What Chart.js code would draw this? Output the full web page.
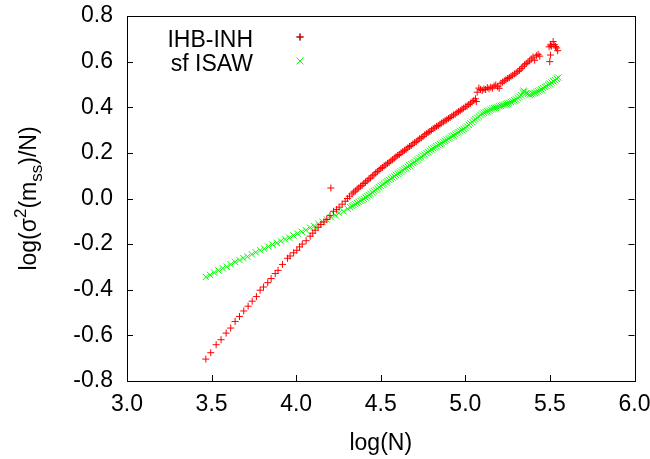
<!DOCTYPE html>
<html>
<head>
<meta charset="utf-8">
<script src="https://cdn.jsdelivr.net/npm/chart.js@4"></script>
<style>
  body { margin: 0; background: #fff; }
  canvas { display: block; }
</style>
</head>
<body>
<canvas id="chart" width="650" height="459"></canvas>
<script>
// IHB-INH (red +)
const redX = [
  3.466, 3.495, 3.527, 3.556, 3.586, 3.613, 3.639, 3.665, 3.690, 3.716, 3.740, 3.765, 3.787, 3.807,
  3.832, 3.852, 3.876, 3.893, 3.919, 3.949, 3.964, 3.985, 4.004, 4.020, 4.036, 4.059, 4.083, 4.098,
  4.112, 4.130, 4.146, 4.164, 4.181, 4.200, 4.205, 4.221, 4.238, 4.254, 4.272, 4.290, 4.303, 4.315,
  4.33, 4.34, 4.35, 4.36, 4.37, 4.38, 4.39, 4.40, 4.41, 4.42, 4.43, 4.44, 4.45, 4.46, 4.47, 4.48,
  4.49, 4.50, 4.51, 4.52, 4.53, 4.54, 4.55, 4.56, 4.57, 4.58, 4.59, 4.60, 4.61, 4.62, 4.63, 4.64,
  4.65, 4.66, 4.67, 4.68, 4.69, 4.70, 4.71, 4.72, 4.73, 4.74, 4.75, 4.76, 4.77, 4.78, 4.79, 4.80,
  4.81, 4.82, 4.83, 4.84, 4.85, 4.86, 4.87, 4.88, 4.89, 4.90, 4.91, 4.92, 4.93, 4.94, 4.95, 4.96,
  4.97, 4.98, 4.99, 5.00, 5.01, 5.02, 5.03, 5.04, 5.05, 5.06, 5.065, 5.07, 5.08, 5.09, 5.10, 5.11,
  5.12, 5.13, 5.14, 5.15, 5.16, 5.17, 5.18, 5.19, 5.20, 5.21, 5.22, 5.23, 5.24, 5.25, 5.26, 5.27,
  5.28, 5.29, 5.30, 5.31, 5.32, 5.33, 5.34, 5.35, 5.36, 5.37, 5.38, 5.39, 5.40, 5.41, 5.42, 5.43,
  5.44, 5.495, 5.499, 5.503, 5.503, 5.51, 5.519, 5.525, 5.533, 5.54, 5.546
];
const redY = [
  -0.704, -0.676, -0.641, -0.619, -0.590, -0.568, -0.539, -0.517, -0.493, -0.472, -0.450, -0.430, -0.402, -0.388,
  -0.369, -0.351, -0.329, -0.315, -0.289, -0.262, -0.252, -0.238, -0.227, -0.212, -0.200, -0.185, -0.165, -0.152,
  -0.139, -0.126, -0.114, -0.103, -0.092, -0.075, 0.046, -0.056, -0.048, -0.038, -0.025, -0.012, 0.000, 0.010,
  0.020, 0.028, 0.033, 0.041, 0.046, 0.054, 0.058, 0.066, 0.072, 0.078, 0.086, 0.090, 0.099, 0.104, 0.112, 0.118,
  0.125, 0.131, 0.136, 0.143, 0.147, 0.154, 0.159, 0.165, 0.170, 0.177, 0.183, 0.189, 0.193, 0.200, 0.205, 0.211,
  0.216, 0.222, 0.228, 0.232, 0.239, 0.245, 0.249, 0.256, 0.262, 0.266, 0.272, 0.279, 0.284, 0.290, 0.294, 0.300,
  0.306, 0.310, 0.316, 0.320, 0.326, 0.331, 0.336, 0.341, 0.345, 0.351, 0.355, 0.361, 0.366, 0.370, 0.376, 0.381,
  0.385, 0.391, 0.396, 0.402, 0.405, 0.412, 0.418, 0.423, 0.430, 0.437, 0.425, 0.466, 0.484, 0.478, 0.474, 0.480,
  0.478, 0.486, 0.481, 0.488, 0.484, 0.493, 0.498, 0.490, 0.483, 0.505, 0.510, 0.516, 0.520, 0.526, 0.530, 0.536,
  0.540, 0.546, 0.550, 0.556, 0.562, 0.570, 0.578, 0.586, 0.592, 0.598, 0.603, 0.612, 0.620, 0.606, 0.626, 0.632,
  0.624, 0.665, 0.600, 0.629, 0.673, 0.668, 0.688, 0.675, 0.666, 0.660, 0.648
];

// sf ISAW (green x)
const greenX = [
  3.466, 3.491, 3.515, 3.540, 3.566, 3.590, 3.613, 3.639, 3.665, 3.688, 3.712, 3.738, 3.761, 3.787,
  3.811, 3.836, 3.860, 3.886, 3.909, 3.935, 3.959, 3.984, 4.007, 4.033, 4.057, 4.083, 4.107, 4.132,
  4.156, 4.181, 4.205, 4.231, 4.254, 4.280, 4.304,
  4.32, 4.33, 4.34, 4.35, 4.36, 4.37, 4.38, 4.39, 4.40, 4.41, 4.42, 4.43, 4.44, 4.45, 4.46, 4.47,
  4.48, 4.49, 4.50, 4.51, 4.52, 4.53, 4.54, 4.55, 4.56, 4.57, 4.58, 4.59, 4.60, 4.61, 4.62, 4.63,
  4.64, 4.65, 4.66, 4.67, 4.68, 4.69, 4.70, 4.71, 4.72, 4.73, 4.74, 4.75, 4.76, 4.77, 4.78, 4.79,
  4.80, 4.81, 4.82, 4.83, 4.84, 4.85, 4.86, 4.87, 4.88, 4.89, 4.90, 4.91, 4.92, 4.93, 4.94, 4.95,
  4.96, 4.97, 4.98, 4.99, 5.00, 5.01, 5.02, 5.03, 5.04, 5.05, 5.06, 5.07, 5.08, 5.09, 5.10, 5.11,
  5.12, 5.13, 5.14, 5.15, 5.16, 5.17, 5.18, 5.19, 5.20, 5.21, 5.22, 5.23, 5.24, 5.25, 5.26, 5.27,
  5.28, 5.29, 5.30, 5.31, 5.32, 5.33, 5.34, 5.345, 5.35, 5.36, 5.37, 5.38, 5.39, 5.40, 5.41, 5.42,
  5.43, 5.44, 5.45, 5.46, 5.47, 5.48, 5.49, 5.50, 5.51, 5.52, 5.53, 5.54, 5.55
];
const greenY = [
  -0.344, -0.335, -0.325, -0.315, -0.306, -0.299, -0.289, -0.278, -0.270, -0.261, -0.255, -0.245, -0.236, -0.227,
  -0.220, -0.211, -0.202, -0.194, -0.187, -0.179, -0.172, -0.162, -0.154, -0.146, -0.139, -0.128, -0.121, -0.111,
  -0.102, -0.092, -0.082, -0.073, -0.063, -0.056, -0.045,
  -0.038, -0.034, -0.029, -0.025, -0.020, -0.015, -0.011, -0.006, -0.002, 0.004, 0.009, 0.015, 0.020, 0.026, 0.032, 0.037,
  0.043, 0.049, 0.055, 0.060, 0.065, 0.071, 0.076, 0.081, 0.087, 0.092, 0.097, 0.103, 0.108, 0.113, 0.118, 0.124,
  0.129, 0.134, 0.139, 0.145, 0.150, 0.155, 0.160, 0.166, 0.171, 0.177, 0.182, 0.188, 0.193, 0.199, 0.204, 0.210,
  0.215, 0.220, 0.224, 0.229, 0.234, 0.239, 0.243, 0.248, 0.253, 0.257, 0.262, 0.267, 0.272, 0.276, 0.281, 0.286,
  0.291, 0.296, 0.300, 0.305, 0.310, 0.316, 0.323, 0.329, 0.336, 0.342, 0.348, 0.354, 0.360, 0.366, 0.372, 0.376,
  0.379, 0.383, 0.386, 0.390, 0.393, 0.396, 0.398, 0.401, 0.404, 0.406, 0.409, 0.411, 0.414, 0.416, 0.419, 0.423,
  0.426, 0.430, 0.434, 0.440, 0.446, 0.452, 0.465, 0.472, 0.468, 0.462, 0.458, 0.455, 0.457, 0.460, 0.463, 0.467,
  0.470, 0.474, 0.478, 0.483, 0.488, 0.493, 0.498, 0.503, 0.508, 0.514, 0.519, 0.525, 0.530
];

const xTicks = [3.0, 3.5, 4.0, 4.5, 5.0, 5.5, 6.0];
const yTicks = [-0.8, -0.6, -0.4, -0.2, 0.0, 0.2, 0.4, 0.6, 0.8];
const seriesNames = ['IHB-INH', 'sf ISAW'];

const FONT = 'Liberation Sans, Arial, Helvetica, sans-serif';
const toPoints = (xs, ys) => xs.map((x, i) => ({ x, y: ys[i] }));

// frame, inward tick marks, legend, axis titles (gnuplot look)
const gnuplotDecor = {
  id: 'gnuplotDecor',
  afterDraw(chart) {
    const { ctx, chartArea: a, scales } = chart;
    ctx.save();
    ctx.strokeStyle = '#000';
    ctx.lineWidth = 1;
    ctx.strokeRect(Math.round(a.left) + 0.5, Math.round(a.top) + 0.5,
      Math.round(a.right - a.left), Math.round(a.bottom - a.top));
    ctx.beginPath();
    yTicks.forEach(v => {
      const y = Math.round(scales.y.getPixelForValue(v)) + 0.5;
      ctx.moveTo(a.left, y); ctx.lineTo(a.left + 6, y);
      ctx.moveTo(a.right, y); ctx.lineTo(a.right - 6, y);
    });
    xTicks.forEach(v => {
      const x = Math.round(scales.x.getPixelForValue(v)) + 0.5;
      ctx.moveTo(x, a.bottom); ctx.lineTo(x, a.bottom - 6);
    });
    ctx.stroke();

    // legend
    ctx.font = '23px ' + FONT;
    ctx.fillStyle = '#000';
    ctx.textAlign = 'right';
    ctx.textBaseline = 'alphabetic';
    const legY = [46.5, 70.5];
    chart.data.datasets.forEach((ds, i) => {
      ctx.fillText(seriesNames[i], 253, legY[i]);
      Chart.helpers.drawPoint(ctx, {
        pointStyle: ds.pointStyle, radius: ds.pointRadius, borderWidth: 1
      }, 300, legY[i] - 9.5);
      ctx.strokeStyle = ds.borderColor;
      ctx.lineWidth = 1;
      ctx.stroke();
    });

    // x title
    ctx.textAlign = 'center';
    ctx.fillStyle = '#000';
    ctx.font = '23px ' + FONT;
    ctx.fillText('log(N)', (a.left + a.right) / 2, 450);

    // y title with super/subscript
    const parts = [
      { t: 'log(σ', f: 23, dy: 0 },
      { t: '2', f: 17, dy: -10 },
      { t: '(m', f: 23, dy: 0 },
      { t: 'ss', f: 17, dy: 6 },
      { t: ')/N)', f: 23, dy: 0 }
    ];
    let total = 0;
    parts.forEach(p => { ctx.font = p.f + 'px ' + FONT; p.w = ctx.measureText(p.t).width; total += p.w; });
    ctx.translate(35.5, (a.top + a.bottom) / 2);
    ctx.rotate(-Math.PI / 2);
    ctx.textAlign = 'left';
    let px = -total / 2;
    parts.forEach(p => {
      ctx.font = p.f + 'px ' + FONT;
      ctx.fillText(p.t, px, p.dy);
      px += p.w;
    });
    ctx.restore();
  }
};

new Chart(document.getElementById('chart'), {
  type: 'scatter',
  data: {
    datasets: [
      {
        label: seriesNames[0],
        data: toPoints(redX, redY),
        pointStyle: 'cross',
        pointRadius: 3.5,
        borderColor: 'rgb(255,0,0)',
        backgroundColor: 'rgb(255,0,0)',
        borderWidth: 1
      },
      {
        label: seriesNames[1],
        data: toPoints(greenX, greenY),
        pointStyle: 'crossRot',
        pointRadius: 4.5,
        borderColor: 'rgb(0,255,0)',
        backgroundColor: 'rgb(0,255,0)',
        borderWidth: 1
      }
    ]
  },
  options: {
    responsive: false,
    animation: false,
    events: [],
    layout: { padding: { left: 0, top: 16, right: 15.5, bottom: 0 } },
    plugins: { legend: { display: false }, tooltip: { enabled: false } },
    scales: {
      x: {
        type: 'linear',
        min: 3, max: 6,
        afterFit: s => { s.height = 78; s.paddingLeft = 0; s.paddingRight = 0; },
        afterBuildTicks: s => { s.ticks = xTicks.map(v => ({ value: v })); },
        grid: { display: false, drawTicks: false, tickLength: 0 },
        border: { display: false },
        ticks: {
          padding: 10,
          color: '#000',
          font: { family: FONT, size: 23 },
          maxRotation: 0,
          callback: v => v.toFixed(1)
        }
      },
      y: {
        type: 'linear',
        min: -0.8, max: 0.8,
        afterFit: s => { s.width = 127; s.paddingTop = 0; s.paddingBottom = 0; },
        afterBuildTicks: s => { s.ticks = yTicks.map(v => ({ value: v })); },
        grid: { display: false, drawTicks: false, tickLength: 0 },
        border: { display: false },
        ticks: {
          padding: 14,
          color: '#000',
          font: { family: FONT, size: 23 },
          callback: v => v.toFixed(1)
        }
      }
    }
  },
  plugins: [gnuplotDecor]
});
</script>
</body>
</html>
